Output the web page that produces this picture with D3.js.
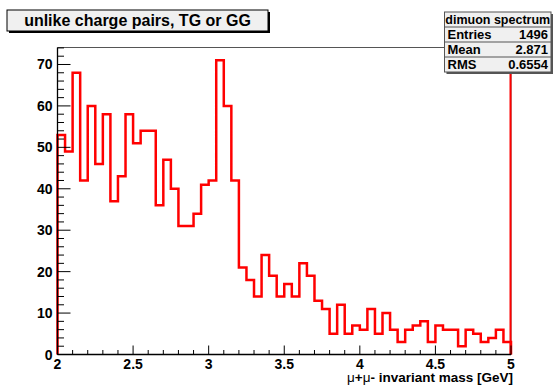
<!DOCTYPE html>
<html>
<head>
<meta charset="utf-8">
<script src="https://cdn.jsdelivr.net/npm/d3@7"></script>
<style>
  body { margin: 0; background: #fff; }
  svg text { font-family: "Liberation Sans", Arial, sans-serif; font-weight: bold; fill: #000; }
</style>
</head>
<body>
<svg id="chart" width="555" height="386"></svg>
<script>
// histogram: 60 bins of 0.05 GeV from 2 to 5
const binLow = 2;
const binWidth = 0.05;
const counts = [
    53, 49, 68, 42, 60, 46, 58, 37, 43, 58,
    51, 54, 54, 36, 47, 40, 31, 31, 34, 41,
    42, 71, 60, 42, 21, 18, 14, 24, 19, 14,
    17, 14, 22, 19, 13, 11, 5, 12, 5, 7,
    6, 11, 5, 10, 6, 3, 6, 7, 8, 3,
    7, 6, 6, 2, 6, 5, 3, 4, 6, 3
];
const xTicks = [2, 2.5, 3, 3.5, 4, 4.5, 5];
const yTicks = [0, 10, 20, 30, 40, 50, 60, 70];
const titleText = "unlike charge pairs, TG or GG";
const statsTitle = "dimuon spectrum";
const statsRows = [["Entries", "1496"], ["Mean", "2.871"], ["RMS", "0.6554"]];

const svg = d3.select("#chart");
const margin = { top: 47.5, right: 44, bottom: 31.5, left: 57.5 };
const width = 555, height = 386;
const innerWidth = width - margin.left - margin.right;
const innerHeight = height - margin.top - margin.bottom;

const x = d3.scaleLinear().domain([2, 5]).range([0, innerWidth]);
const y = d3.scaleLinear().domain([0, 74.1]).range([innerHeight, 0]);

const g = svg.append("g")
    .attr("transform", `translate(${margin.left},${margin.top})`);

// frame
g.append("line")
    .attr("x1", 0).attr("x2", innerWidth)
    .attr("y1", 0).attr("y2", 0)
    .attr("stroke", "#555").attr("stroke-width", 1);
g.append("line")
    .attr("x1", innerWidth).attr("x2", innerWidth)
    .attr("y1", 0).attr("y2", innerHeight)
    .attr("stroke", "#555").attr("stroke-width", 1);

// step outline of the histogram
const pts = [[binLow, 0]];
counts.forEach((c, i) => {
    pts.push([binLow + i * binWidth, c]);
    pts.push([binLow + (i + 1) * binWidth, c]);
});
pts.push([5, 0]);
const line = d3.line().x(d => x(d[0])).y(d => y(d[1]));

g.append("path")
    .attr("d", line(pts))
    .attr("fill", "none")
    .attr("stroke", "#ff0000")
    .attr("stroke-width", 2.5)
    .attr("stroke-linejoin", "miter");

// overflow edge running up at x = 5
g.append("line")
    .attr("x1", x(5) - 0.5).attr("x2", x(5) - 0.5)
    .attr("y1", y(0)).attr("y2", 0)
    .attr("stroke", "#ff0000").attr("stroke-width", 2);

// y axis (ticks inside)
const yAxis = g.append("g");
yAxis.append("line")
    .attr("x1", 0).attr("x2", 0).attr("y1", 0).attr("y2", innerHeight)
    .attr("stroke", "#000").attr("stroke-width", 1.3);
const yMinor = d3.range(0, 75, 2);
yAxis.selectAll(".ymin").data(yMinor).join("line")
    .attr("x1", 0).attr("x2", d => d % 10 === 0 ? 13 : 6.5)
    .attr("y1", d => y(d)).attr("y2", d => y(d))
    .attr("stroke", "#000").attr("stroke-width", 1);
yAxis.selectAll(".ylab").data(yTicks).join("text")
    .attr("x", -5)
    .attr("y", d => y(d) + 5)
    .attr("text-anchor", "end")
    .attr("font-size", "14px")
    .text(d => d);

// x axis (ticks inside)
const xAxis = g.append("g").attr("transform", `translate(0,${innerHeight})`);
xAxis.append("line")
    .attr("x1", 0).attr("x2", innerWidth).attr("y1", 0).attr("y2", 0)
    .attr("stroke", "#000").attr("stroke-width", 1.3);
const xMinor = d3.range(20, 51).map(d => d / 10);
xAxis.selectAll(".xmin").data(xMinor).join("line")
    .attr("x1", d => x(d)).attr("x2", d => x(d))
    .attr("y1", 0).attr("y2", d => Math.abs(d * 2 - Math.round(d * 2)) < 1e-6 ? -9 : -4.5)
    .attr("stroke", "#000").attr("stroke-width", 1);
xAxis.selectAll(".xlab").data(xTicks).join("text")
    .attr("x", d => x(d))
    .attr("y", 14.5)
    .attr("text-anchor", "middle")
    .attr("font-size", "14px")
    .text(d => d);

// axis title
const xt = svg.append("text")
    .attr("x", 513)
    .attr("y", 382)
    .attr("text-anchor", "end")
    .attr("font-size", "13.5px");
xt.append("tspan").attr("font-weight", "normal").text("\u03bc");
xt.append("tspan").text("+");
xt.append("tspan").attr("font-weight", "normal").text("\u03bc");
xt.append("tspan").text("- invariant mass [GeV]");

// title box
const tb = { x: 7, y: 10, w: 261, h: 21 };
svg.append("rect")
    .attr("x", tb.x + 2).attr("y", tb.y + 2).attr("width", tb.w).attr("height", tb.h)
    .attr("fill", "#000");
svg.append("rect")
    .attr("x", tb.x).attr("y", tb.y).attr("width", tb.w).attr("height", tb.h)
    .attr("fill", "#f0f0f0").attr("stroke", "#000").attr("stroke-width", 1);
svg.append("text")
    .attr("x", tb.x + tb.w / 2).attr("y", tb.y + 16)
    .attr("text-anchor", "middle")
    .attr("font-size", "16px")
    .text(titleText);

// stats box
const sb = { x: 444.5, y: 12, w: 106.5, rowH: 15 };
const sbH = sb.rowH * (statsRows.length + 1);
svg.append("rect")
    .attr("x", sb.x + 2).attr("y", sb.y + 2).attr("width", sb.w).attr("height", sbH)
    .attr("fill", "#555");
svg.append("rect")
    .attr("x", sb.x).attr("y", sb.y).attr("width", sb.w).attr("height", sbH)
    .attr("fill", "#f0f0f0").attr("stroke", "#555").attr("stroke-width", 1);
svg.append("text")
    .attr("x", sb.x + sb.w / 2).attr("y", sb.y + 11.5)
    .attr("text-anchor", "middle")
    .attr("font-size", "12.5px")
    .text(statsTitle);
statsRows.forEach((r, i) => {
    const top = sb.y + sb.rowH * (i + 1);
    svg.append("line")
        .attr("x1", sb.x).attr("x2", sb.x + sb.w)
        .attr("y1", top).attr("y2", top)
        .attr("stroke", "#555").attr("stroke-width", 1);
    svg.append("text")
        .attr("x", sb.x + 3).attr("y", top + 12)
        .attr("font-size", "13px")
        .text(r[0]);
    svg.append("text")
        .attr("x", sb.x + sb.w - 3).attr("y", top + 12)
        .attr("text-anchor", "end")
        .attr("font-size", "13px")
        .text(r[1]);
});
</script>
</body>
</html>
